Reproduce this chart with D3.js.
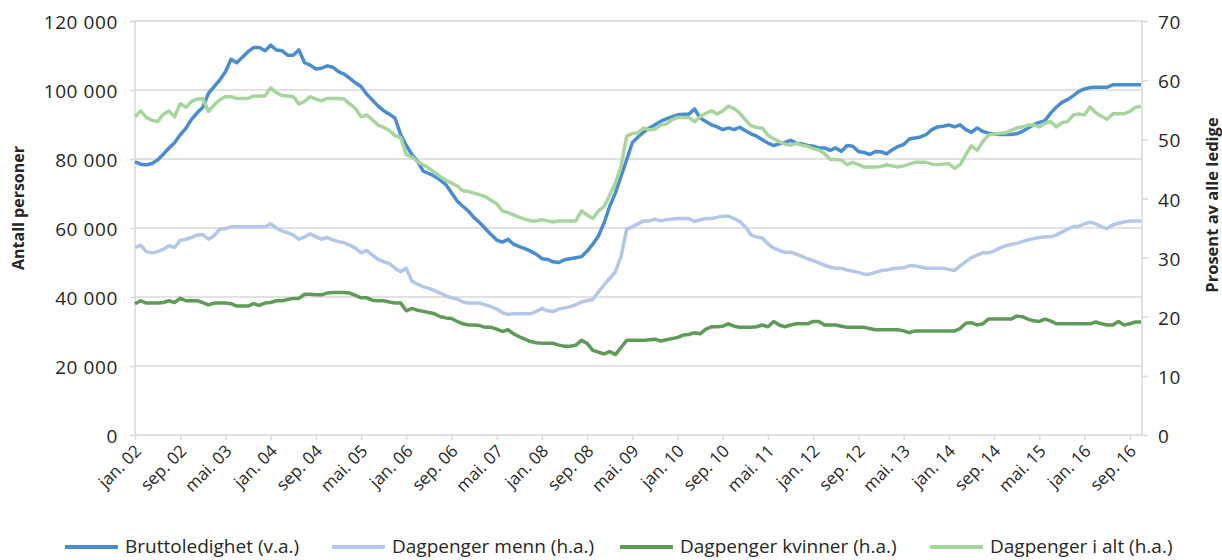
<!DOCTYPE html>
<html><head><meta charset="utf-8">
<script src="https://cdn.jsdelivr.net/npm/d3@7"></script>
<style>
body{margin:0;background:#fff;}
svg{display:block;font-family:'Open Sans',sans-serif;}
</style>
</head><body>
<svg id="chart" width="1222" height="560"></svg>
<script>
// Monthly data, jan. 2002 – nov. 2016
const tickLabels = ["jan. 02","sep. 02","mai. 03","jan. 04","sep. 04","mai. 05","jan. 06","sep. 06","mai. 07","jan. 08","sep. 08","mai. 09","jan. 10","sep. 10","mai. 11","jan. 12","sep. 12","mai. 13","jan. 14","sep. 14","mai. 15","jan. 16","sep. 16"];
const leftTicks = [0,20000,40000,60000,80000,100000,120000];
const rightTicks = [0,10,20,30,40,50,60,70];

// Bruttoledighet, thousands of persons (left axis)
const bruttoledighet = [
79.2,78.5,78.3,78.7,79.7,81.4,83.1,84.7,87.0,88.9,
91.5,93.4,95.0,99.0,101.0,102.9,105.3,108.9,107.9,109.5,
111.1,112.3,112.3,111.4,113.0,111.6,111.4,110.1,110.1,111.6,
107.9,107.2,106.1,106.3,107.0,106.6,105.3,104.6,103.4,102.1,
101.0,98.8,97.1,95.4,94.0,93.0,91.9,87.1,83.9,81.3,
79.3,76.5,75.8,75.0,73.9,72.6,70.2,67.8,66.3,64.9,
63.0,61.5,59.8,58.1,56.5,55.9,56.7,55.3,54.6,54.0,
53.3,52.4,51.1,50.9,50.2,50.0,50.8,51.1,51.4,51.7,
53.3,55.3,57.7,61.5,66.3,70.2,75.0,79.8,84.8,86.4,
87.8,89.0,89.9,90.9,91.6,92.2,92.8,93.0,93.0,94.5,
91.9,90.9,89.9,89.3,88.5,89.0,88.5,89.2,88.2,87.3,
86.6,85.6,84.6,83.9,84.4,84.8,85.4,84.6,84.4,83.9,
83.7,83.2,83.2,82.5,83.2,82.2,83.9,83.7,82.2,81.9,
81.3,82.2,82.1,81.5,82.7,83.6,84.2,85.8,86.1,86.4,
87.1,88.5,89.3,89.5,89.9,89.3,89.9,88.5,87.7,89.0,
88.0,87.5,87.3,87.1,87.1,87.1,87.3,88.0,89.0,89.9,
90.6,91.1,93.3,95.0,96.4,97.2,98.3,99.6,100.3,100.7,
100.8,100.8,100.8,101.5,101.5,101.5,101.5,101.5,101.5
].map(v => v * 1000);

// Dagpenger menn, percent (right axis)
const dagpengerMenn = [
31.7,32.1,31.0,30.8,31.0,31.4,32.0,31.7,32.9,33.1,
33.4,33.8,33.9,33.1,33.7,34.8,34.9,35.2,35.2,35.2,
35.2,35.2,35.2,35.2,35.7,35.0,34.5,34.2,33.8,33.1,
33.5,34.0,33.5,33.1,33.4,33.0,32.7,32.5,32.1,31.6,
30.8,31.2,30.4,29.7,29.3,29.0,28.2,27.6,28.2,26.0,
25.5,25.1,24.8,24.4,24.0,23.5,23.2,23.0,22.5,22.3,
22.3,22.3,22.0,21.7,21.3,20.7,20.4,20.5,20.5,20.5,
20.5,20.9,21.4,21.0,20.9,21.3,21.5,21.7,22.0,22.5,
22.7,22.9,24.2,25.4,26.5,27.6,30.2,34.8,35.2,35.7,
36.2,36.2,36.5,36.2,36.4,36.5,36.6,36.6,36.6,36.1,
36.4,36.6,36.6,36.8,37.0,37.0,36.6,36.1,35.2,33.8,
33.5,33.3,32.3,31.6,31.2,30.9,30.9,30.6,30.2,29.8,
29.5,29.1,28.7,28.4,28.2,28.2,27.9,27.7,27.5,27.2,
27.2,27.5,27.8,27.9,28.1,28.2,28.3,28.6,28.6,28.4,
28.2,28.2,28.2,28.2,28.0,27.8,28.6,29.3,30.0,30.4,
30.8,30.8,31.1,31.6,32.0,32.2,32.4,32.7,33.0,33.2,
33.4,33.5,33.5,33.8,34.3,34.8,35.2,35.3,35.7,36.0,
35.7,35.2,34.9,35.5,35.8,36.0,36.2,36.2,36.2
];

// Dagpenger kvinner, percent (right axis)
const dagpengerKvinner = [
22.2,22.7,22.3,22.3,22.3,22.4,22.7,22.4,23.1,22.7,
22.7,22.7,22.4,22.0,22.3,22.3,22.3,22.2,21.8,21.8,
21.8,22.2,21.9,22.3,22.4,22.7,22.7,22.9,23.1,23.1,
23.8,23.8,23.7,23.7,24.0,24.1,24.1,24.1,24.0,23.6,
23.2,23.2,22.8,22.7,22.7,22.5,22.3,22.3,21.0,21.4,
21.1,20.9,20.7,20.5,20.0,19.8,19.7,19.2,18.8,18.6,
18.6,18.5,18.2,18.2,17.9,17.5,17.8,17.1,16.6,16.2,
15.8,15.6,15.5,15.5,15.5,15.2,15.0,15.0,15.2,16.0,
15.5,14.3,14.0,13.7,14.1,13.6,14.8,16.0,16.0,16.0,
16.0,16.1,16.2,15.9,16.1,16.3,16.5,16.9,17.0,17.3,
17.1,17.9,18.3,18.3,18.4,18.8,18.4,18.2,18.2,18.2,
18.3,18.6,18.3,19.2,18.6,18.3,18.6,18.8,18.8,18.8,
19.2,19.2,18.6,18.6,18.6,18.4,18.2,18.2,18.2,18.2,
18.0,17.8,17.8,17.8,17.8,17.8,17.6,17.3,17.6,17.6,
17.6,17.6,17.6,17.6,17.6,17.6,18.0,18.9,19.0,18.6,
18.8,19.6,19.6,19.6,19.6,19.6,20.1,20.0,19.6,19.3,
19.2,19.6,19.3,18.8,18.8,18.8,18.8,18.8,18.8,18.8,
19.1,18.8,18.6,18.6,19.2,18.6,18.8,19.1,19.1
];

// Dagpenger i alt, percent (right axis)
const dagpengerIAlt = [
53.8,54.8,53.7,53.2,53.0,54.2,54.8,53.8,56.0,55.4,
56.4,56.8,56.9,54.7,55.8,56.7,57.2,57.2,56.9,56.9,
56.9,57.3,57.3,57.3,58.7,57.9,57.4,57.3,57.2,56.0,
56.4,57.2,56.8,56.5,56.9,56.9,56.9,56.8,56.0,55.2,
53.8,54.1,53.3,52.4,52.0,51.5,50.6,50.3,47.4,47.0,
46.2,45.7,45.1,44.4,43.7,43.1,42.6,42.1,41.3,41.2,
40.9,40.6,40.3,39.7,39.1,37.9,37.6,37.2,36.8,36.5,
36.2,36.2,36.4,36.2,36.0,36.2,36.2,36.2,36.2,37.9,
37.2,36.6,37.9,38.6,40.6,42.6,45.4,50.5,51.0,51.1,
51.9,51.6,51.7,52.4,52.6,53.3,53.7,53.7,53.7,53.0,
53.8,54.4,54.8,54.3,54.8,55.6,55.2,54.4,53.3,52.3,
52.0,51.9,50.7,50.1,49.6,49.2,49.0,49.3,49.0,48.8,
48.4,48.2,47.6,46.6,46.6,46.5,45.7,46.1,45.7,45.3,
45.3,45.3,45.4,45.7,45.5,45.3,45.5,45.8,46.1,46.1,
46.1,45.8,45.7,45.8,45.9,45.1,45.7,47.4,48.9,48.1,
49.6,50.7,50.9,51.0,51.1,51.5,51.9,52.1,52.4,52.4,
52.1,52.7,53.0,52.1,52.8,53.0,54.1,54.3,54.1,55.5,
54.5,53.9,53.4,54.3,54.3,54.3,54.7,55.4,55.6
];

const seriesNames = ["Bruttoledighet (v.a.)","Dagpenger menn (h.a.)","Dagpenger kvinner (h.a.)","Dagpenger i alt (h.a.)"];

// ---------- layout / style ----------
const M = {left:135, right:1142, top:21, bottom:435};
const colors = ["#4a8dce","#b4c7e8","#5f9a59","#a8d49d"];
const gridColor = "#d9d9d9";
const textColor = "#262626";

const svg = d3.select("#chart");
const n = bruttoledighet.length;
const x = d3.scaleLinear().domain([0, n - 1]).range([M.left, M.right - 1]);
const yL = d3.scaleLinear().domain([0, 120000]).range([M.bottom, M.top]);
const yR = d3.scaleLinear().domain([0, 70]).range([M.bottom, M.top]);

// gridlines
svg.append("g").selectAll("line").data(leftTicks.filter(d => d > 0)).join("line")
  .attr("x1", M.left).attr("x2", M.right)
  .attr("y1", d => yL(d)).attr("y2", d => yL(d))
  .attr("stroke", gridColor).attr("stroke-width", 1.5);

const fmt = d => d3.format(",")(d).replace(/,/g, " ");

// left axis
const gL = svg.append("g").attr("transform", `translate(${M.left},0)`)
  .call(d3.axisLeft(yL).tickValues(leftTicks).tickFormat(fmt).tickSize(5).tickPadding(12));
// right axis
const gR = svg.append("g").attr("transform", `translate(${M.right},0)`)
  .call(d3.axisRight(yR).tickValues(rightTicks).tickSize(6).tickPadding(10));
// bottom axis
const gB = svg.append("g").attr("transform", `translate(0,${M.bottom})`)
  .call(d3.axisBottom(x).tickValues(d3.range(0, n, 8)).tickFormat((d, i) => tickLabels[i]).tickSize(5).tickSizeOuter(0));

[gL, gR, gB].forEach(g => {
  g.select(".domain").attr("stroke", gridColor).attr("stroke-width", 1.5);
  g.selectAll(".tick line").attr("stroke", gridColor).attr("stroke-width", 1.5);
  g.selectAll("text").attr("fill", textColor).style("font-family", "'Open Sans', sans-serif");
});
gL.select(".domain").attr("d", `M0,${M.bottom}V${M.top}`);
gR.select(".domain").attr("d", `M0,${M.bottom}V${M.top}`);
gL.selectAll("text").style("font-size", "19px").style("letter-spacing", "0.6px").attr("dy", "0.4em");
gR.selectAll("text").style("font-size", "19px").style("letter-spacing", "0.6px").attr("dy", "0.4em");
gB.selectAll("text").style("font-size", "17px")
  .attr("text-anchor", "end").attr("dy", null).attr("y", 0)
  .attr("transform", "translate(7,17) rotate(-45)");
gB.select(".domain").attr("d", `M${M.left},0H${M.right}`);

// axis titles
svg.append("text").text("Antall personer")
  .attr("transform", `translate(24,${(M.top + M.bottom) / 2 - 20}) rotate(-90)`)
  .attr("text-anchor", "middle").attr("fill", textColor)
  .style("font-size", "16px").style("font-weight", "bold");
svg.append("text").text("Prosent av alle ledige")
  .attr("transform", `translate(1218,${(M.top + M.bottom) / 2 - 23}) rotate(-90)`)
  .attr("text-anchor", "middle").attr("fill", textColor)
  .style("font-size", "16.5px").style("font-weight", "bold");

// lines
const seriesData = [
  {vals: bruttoledighet, y: yL},
  {vals: dagpengerMenn, y: yR},
  {vals: dagpengerKvinner, y: yR},
  {vals: dagpengerIAlt, y: yR}
];
seriesData.forEach((s, k) => {
  const line = d3.line().x((d, i) => x(i)).y(d => s.y(d));
  svg.append("path").datum(s.vals).attr("d", line)
    .attr("fill", "none").attr("stroke", colors[k]).attr("stroke-width", 3.5)
    .attr("stroke-linejoin", "round");
});

// legend
const legendX = [65, 332, 620, 930];
const lg = svg.append("g");
seriesNames.forEach((name, k) => {
  lg.append("line").attr("x1", legendX[k]).attr("x2", legendX[k] + 53)
    .attr("y1", 547).attr("y2", 547).attr("stroke", colors[k]).attr("stroke-width", 4);
  lg.append("text").text(name).attr("x", legendX[k] + 60).attr("y", 553)
    .attr("fill", textColor).style("font-size", "19px");
});
</script>
</body></html>
